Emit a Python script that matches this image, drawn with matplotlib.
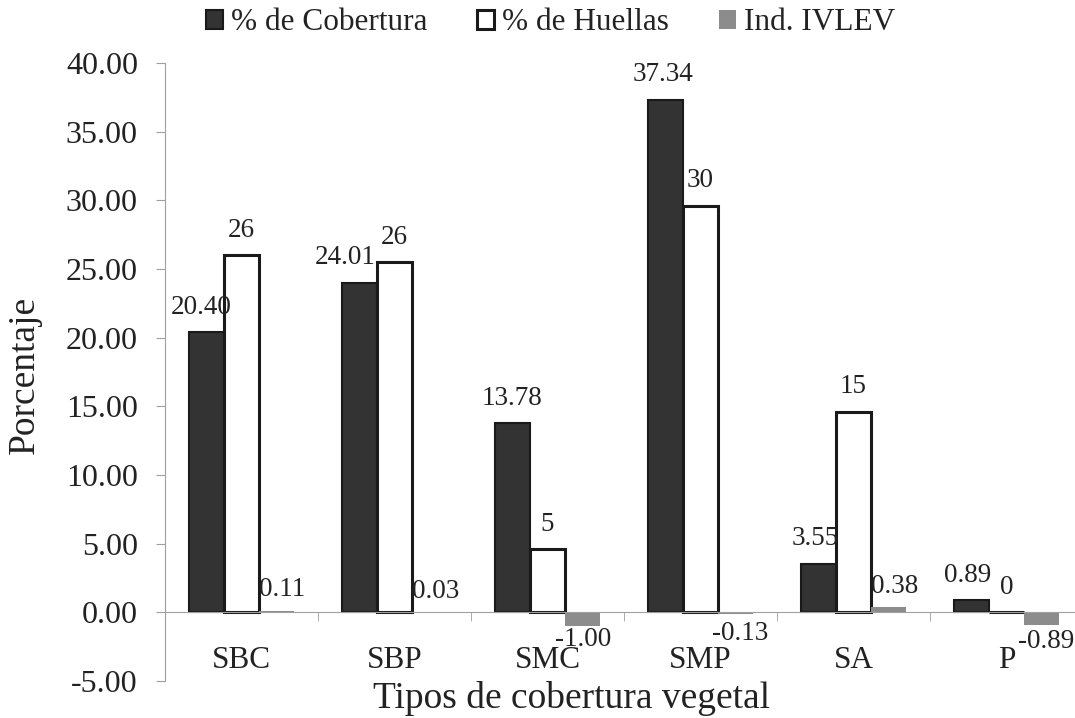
import matplotlib.pyplot as plt
import numpy as np

plt.rcParams['font.family'] = ['Liberation Serif', 'DejaVu Serif']

categorias = ["SBC", "SBP", "SMC", "SMP", "SA", "P"]
cobertura = [20.40, 24.01, 13.78, 37.34, 3.55, 0.89]
huellas = [26.0, 25.5, 4.6, 29.6, 14.6, 0.0]
ivlev = [0.11, 0.03, -1.00, -0.13, 0.38, -0.89]

fig = plt.figure(figsize=(10.75, 7.18), dpi=100)
# the axes runs slightly past the right edge, like the original
ax = fig.add_axes([165/1075, 1 - 681/718, 918/1075, 618/718])

x = np.arange(len(categorias))
w = 0.23
b1 = ax.bar(x - w, cobertura, w, color="#333333", edgecolor="#1a1a1a", linewidth=1.5, label="% de Cobertura")
b2 = ax.bar(x, huellas, w, color="white", edgecolor="#1a1a1a", linewidth=2.2, label="% de Huellas")
b3 = ax.bar(x + w, ivlev, w, color="#8c8c8c", edgecolor="none", label="Ind. IVLEV")

ax.set_xlim(-0.5, len(categorias) - 0.5)
ax.set_ylim(-5, 40)
yt = np.arange(-5, 41, 5)
ax.set_yticks(yt)
ax.set_yticklabels(["%.2f" % v for v in yt], fontsize=23, color="#222222")

ax.spines['top'].set_visible(False)
ax.spines['right'].set_visible(False)
ax.spines['bottom'].set_position(('data', 0))
ax.spines['bottom'].set_color("#a0a0a0")
ax.spines['left'].set_color("#a0a0a0")
ax.tick_params(axis='y', direction='out', length=6.5, color="#a0a0a0", pad=13)

ax.set_xticks(x)
ax.set_xticklabels(categorias, fontsize=22.5, color="#222222")
ax.tick_params(axis='x', which='major', length=0, pad=24)
ax.set_xticks(np.arange(0.5, len(categorias) - 0.5, 1), minor=True)
ax.tick_params(axis='x', which='minor', direction='out', length=6.5, color="#a0a0a0")

lab_fs = 19.5
# etiquetas de valores
cob_dx = [-4, -10, 0, -2, -2, -3]
for xi, v, dx in zip(x, cobertura, cob_dx):
    ax.annotate("%.2f" % v, (xi - w, v), xytext=(dx, 9), textcoords="offset points",
                ha="center", va="bottom", fontsize=lab_fs, color="#222222")
for xi, v in zip(x, huellas):
    ax.annotate("%.0f" % v, (xi, v), xytext=(0, 9), textcoords="offset points",
                ha="center", va="bottom", fontsize=lab_fs, color="#222222")
iv_off = [(4, 6), (4, 6), (0, -1), (3, -5), (4, 6), (3, -3)]
for xi, v, off in zip(x, ivlev, iv_off):
    ax.annotate("%.2f" % v, (xi + w, v), xytext=off, textcoords="offset points",
                ha="center", va="bottom" if off[1] > 0 else "top",
                fontsize=lab_fs, color="#222222")

ax.set_ylabel("Porcentaje", fontsize=27, color="#222222")
ax.yaxis.label.set_va("center")
ax.yaxis.set_label_coords(-0.1525, 0.495)
ax.set_xlabel("Tipos de cobertura vegetal", fontsize=27, color="#222222")
ax.xaxis.label.set_va("center")
ax.xaxis.set_label_coords(0.443, -0.028)

fig.legend(handles=[b1, b2, b3], loc="center", bbox_to_anchor=(0.512, 1 - 23/718), ncol=3,
           frameon=False, fontsize=22.5, handlelength=0.55, handleheight=0.55,
           handletextpad=0.25, columnspacing=1.6, borderpad=0, labelcolor="#222222")

fig.savefig("out.png", dpi=100)
